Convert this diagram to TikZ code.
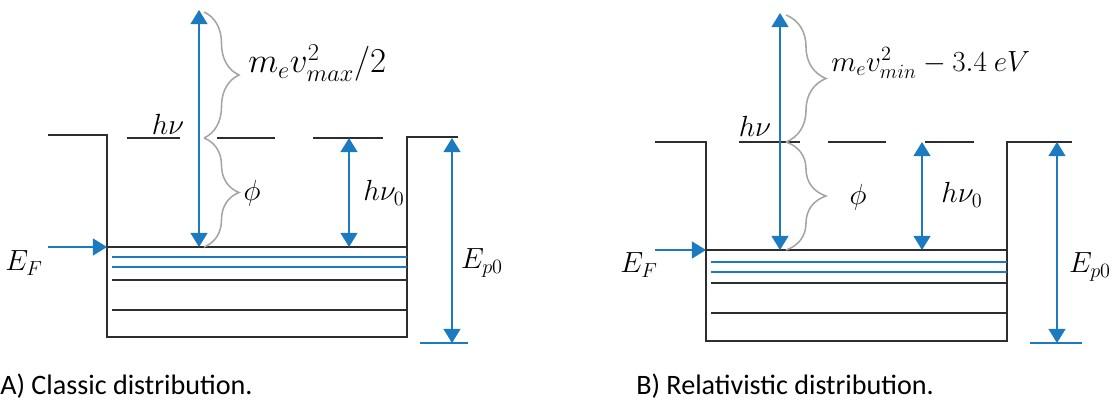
\documentclass[tikz,border=0pt]{standalone}
\usepackage{fontspec}
\setmainfont{Carlito}
\usepackage{tikz}
\usetikzlibrary{arrows.meta,decorations.pathreplacing,positioning}
\definecolor{eblue}{RGB}{28,122,192}
\definecolor{bracegray}{RGB}{165,165,165}
\definecolor{linegray}{RGB}{45,45,45}
\tikzstyle{level} = [draw=linegray, line width=1.4pt]
\tikzstyle{band} = [draw=eblue, line width=1.2pt]
\tikzstyle{energy} = [eblue, line width=1.1pt, {Triangle[length=10pt,width=12pt]}-{Triangle[length=10pt,width=12pt]}]
\tikzstyle{inarrow} = [eblue, line width=1.3pt, -{Triangle[length=10pt,width=12pt]}]
\tikzstyle{gbrace} = [draw=bracegray, line width=1.1pt, decorate, decoration={brace, amplitude=0.875cm}]
\tikzstyle{lbl} = [font=\fontsize{21}{24}\selectfont, inner sep=0pt]
\tikzstyle{caption} = [font=\fontsize{20}{24}\selectfont, inner sep=0pt, anchor=west]

\begin{document}
\begin{tikzpicture}[x=0.025cm, y=-0.025cm]
\useasboundingbox (0,0) rectangle (1120,414);

% A) classic: well and levels
\draw [level] (48,135) -- (107,135) -- (107,337) -- (407,337) -- (407,137) -- (458,137);
\draw [level] (127,138) -- (180,138);
\draw [level] (217,138) -- (275,138);
\draw [level] (313,138) -- (383,138);
\draw [level] (107,247) -- (407,247);
\draw [band] (112,257) -- (407,257);
\draw [band] (112,267) -- (407,267);
\draw [level] (112,280) -- (407,280);
\draw [level] (112,310) -- (407,310);
\draw [band] (420,343) -- (468,343);

% A) energies
\coordinate (A-top) at (199,10);
\coordinate (A-vac) at (199,138);
\coordinate (A-fermi) at (199,247);
\coordinate (A-v0top) at (349,138);
\coordinate (A-v0bot) at (349,247);
\coordinate (A-eptop) at (452,138);
\coordinate (A-epbot) at (452,343);
\coordinate (A-efin) at (48,247);
\coordinate (A-efwall) at (107,247);
\draw [energy] (A-top) -- (A-fermi);
\draw [energy] (A-v0top) -- (A-v0bot);
\draw [energy] (A-eptop) -- (A-epbot);
\draw [inarrow] (A-efin) -- (A-efwall);
\draw [gbrace] (204,12) -- (204,138);
\draw [gbrace] (204,138) -- (204,247);

\node (A-hv) [lbl] at (168,124) {$h\nu$};
\node (A-kin) [lbl, anchor=west, font=\fontsize{23}{26}\selectfont] at (248,63) {$m_e v_{max}^2/2$};
\node (A-phi) [lbl] at (252,193) {$\phi$};
\node (A-hv0) [lbl] at (384,193) {$h\nu_0$};
\node (A-ep0) [lbl] at (482,263) {$E_{p0}$};
\node (A-ef) [lbl] at (24,263) {$E_F$};

% B) relativistic: well and levels
\draw [level] (655,142) -- (706,142) -- (706,341) -- (1007,341) -- (1007,142) -- (1072,142);
\draw [level] (739,142) -- (800,142);
\draw [level] (828,142) -- (886,142);
\draw [level] (925,142) -- (974,142);
\draw [level] (706,250) -- (1007,250);
\draw [band] (711,262) -- (1007,262);
\draw [band] (711,272) -- (1007,272);
\draw [level] (711,283) -- (1007,283);
\draw [level] (711,313) -- (1007,313);
\draw [band] (1030,343) -- (1082,343);

% B) energies
\coordinate (B-top) at (780,13);
\coordinate (B-vac) at (780,142);
\coordinate (B-fermi) at (780,250);
\coordinate (B-v0top) at (922,142);
\coordinate (B-v0bot) at (922,250);
\coordinate (B-eptop) at (1057,142);
\coordinate (B-epbot) at (1057,343);
\coordinate (B-efin) at (655,250);
\coordinate (B-efwall) at (706,250);
\draw [energy] (B-top) -- (B-fermi);
\draw [energy] (B-v0top) -- (B-v0bot);
\draw [energy] (B-eptop) -- (B-epbot);
\draw [inarrow] (B-efin) -- (B-efwall);
\draw [gbrace, decoration={amplitude=1cm}] (786,15) -- (786,142);
\draw [gbrace, decoration={amplitude=1cm}] (786,142) -- (786,250);

\node (B-hv) [lbl] at (755,126) {$h\nu$};
\node (B-kin) [lbl, anchor=west, font=\fontsize{22}{25}\selectfont] at (831,63) {$m_e v_{min}^2 - 3.4\ eV$};
\node (B-phi) [lbl] at (858,197) {$\phi$};
\node (B-hv0) [lbl] at (962,195) {$h\nu_0$};
\node (B-ep0) [lbl] at (1090,267) {$E_{p0}$};
\node (B-ef) [lbl] at (639,265) {$E_F$};

% captions
\node (A-cap) [caption] at (0,386) {A) Classic distribution.};
\node (B-cap) [caption] at (636,386) {B) Relativistic distribution.};

\end{tikzpicture}
\end{document}
